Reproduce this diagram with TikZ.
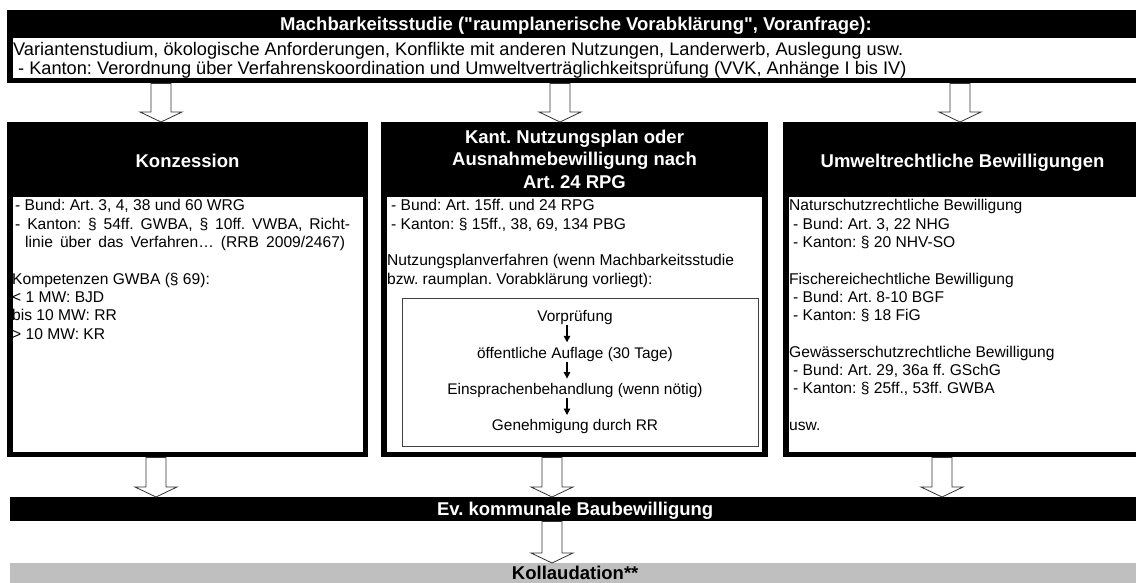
\documentclass[tikz,border=0pt]{standalone}
\usepackage{fontspec}
\setmainfont{Liberation Sans}[Ligatures=TeXOff]
\usetikzlibrary{arrows.meta}

% hollow block arrow: #1 = x position, #2 = source node, #3 = target node
\newcommand{\hollowarrow}[3]{%
  \path (#1,0 |- #2.south) coordinate (ha-top)
        (#1,0 |- #3.north) coordinate (ha-tip);
  \draw[hollow] ([xshift=-10pt]ha-top)
    -- ([xshift=-10pt,yshift=10pt]ha-tip)
    -- ([xshift=-21pt,yshift=10pt]ha-tip)
    -- (ha-tip)
    -- ([xshift=21pt,yshift=10pt]ha-tip)
    -- ([xshift=10pt,yshift=10pt]ha-tip)
    -- ([xshift=10pt]ha-top) -- cycle;
}

\begin{document}
\frenchspacing
\begin{tikzpicture}[x=1pt,y=-1pt,
  frame/.style={fill=black, draw=none, inner sep=0pt, anchor=north west},
  panel/.style={fill=white, draw=none, inner sep=0pt, anchor=north west},
  head/.style={text=white, font=\fontsize{18.5}{22.5}\selectfont\bfseries,
               align=center, inner sep=0pt},
  lead/.style={font=\fontsize{18.2}{19}\selectfont, align=left, inner sep=0pt,
               anchor=north west},
  body/.style={font=\fontsize{15.6}{18.3}\selectfont, align=left, inner sep=0pt,
               anchor=north west},
  hollow/.style={draw=black!80, fill=white, line width=0.8pt, line join=miter},
  stepnode/.style={font=\fontsize{15.4}{18.3}\selectfont, inner sep=0pt,
                   text height=11pt, text depth=3.5pt, anchor=base},
  steparrow/.style={-{Triangle[width=6.5pt,length=6.5pt]}, line width=1.3pt,
                    shorten >=4.5pt},
  bar/.style={inner sep=0pt, anchor=north west, minimum width=1130pt,
              font=\fontsize{18.5}{22.5}\selectfont\bfseries,
              text height=13.3pt, text depth=0pt},
]
\useasboundingbox (0,0) rectangle (1136,583);
\clip (0,0) rectangle (1136,583);
\fill[white] (0,0) rectangle (1136,583);

% feasibility study
\node[frame, minimum width=1138pt, minimum height=73pt] (study) at (7,10) {};
\node[panel, minimum width=1130pt, minimum height=40pt] (studybody) at (13,38) {};
\node[head, text height=13.3pt, text depth=0pt] (studytitle) at (576,24)
  {Machbarkeitsstudie ("raumplanerische Vorabklärung", Voranfrage):};
\node[lead] (studytext) at (13,41.7)
  {\strut Variantenstudium, ökologische Anforderungen, Konflikte mit anderen Nutzungen, Landerwerb, Auslegung usw.\\
   \hspace*{5pt}- Kanton: Verordnung über Verfahrenskoordination und Umweltverträglichkeitsprüfung (VVK, Anhänge I bis IV)};

% concession
\node[frame, minimum width=361pt, minimum height=335pt] (konz) at (7,122) {};
\node[panel, minimum width=350pt, minimum height=255pt] (konzbody) at (12.5,197) {};
\node[head, text height=13.3pt, text depth=0pt] (konzhead) at (187.5,160.4) {Konzession};
\node[body] (konztext) at (12,197.9)
  {\strut\hspace*{3pt}- Bund: Art. 3, 4, 38 und 60 WRG\\
   \hspace*{3pt}\makebox[335pt][s]{- Kanton: § 54ff. GWBA, § 10ff. VWBA, Richt-}\\
   \hspace*{13pt}\makebox[320pt][s]{linie über das Verfahren… (RRB 2009/2467)}\\[18.3pt]
   Kompetenzen GWBA (§ 69):\\
   < 1 MW: BJD\\
   bis 10 MW: RR\\
   > 10 MW: KR};

% land use plan
\node[frame, minimum width=387pt, minimum height=335pt] (plan) at (381,122) {};
\node[panel, minimum width=375pt, minimum height=255pt] (planbody) at (387,197) {};
\node[head, anchor=north] (planhead) at (574.5,127.55)
  {\strut Kant. Nutzungsplan oder\\ Ausnahmebewilligung nach\\ Art. 24 RPG};
\node[body] (plantext) at (387,197.9)
  {\strut\hspace*{4pt}- Bund: Art. 15ff. und 24 RPG\\
   \hspace*{4pt}- Kanton: § 15ff., 38, 69, 134 PBG\\[18.3pt]
   Nutzungsplanverfahren (wenn Machbarkeitsstudie\\
   bzw. raumplan. Vorabklärung vorliegt):};
\node[draw=black!75, line width=1pt, inner sep=0pt, anchor=north west,
      minimum width=356pt, minimum height=148pt] (steps) at (402,298) {};
\node[stepnode] (s1) at (575,321.7) {Vorprüfung};
\node[stepnode] (s2) at (575,358) {öffentliche Auflage (30 Tage)};
\node[stepnode] (s3) at (575,394.3) {Einsprachenbehandlung (wenn nötig)};
\node[stepnode] (s4) at (575,430.7) {Genehmigung durch RR};
\draw[steparrow] (567,0 |- s1.south) -- (567,0 |- s2.north);
\draw[steparrow] (567,0 |- s2.south) -- (567,0 |- s3.north);
\draw[steparrow] (567,0 |- s3.south) -- (567,0 |- s4.north);

% environmental permits
\node[frame, minimum width=360pt, minimum height=335pt] (env) at (783,122) {};
\node[panel, minimum width=350pt, minimum height=255pt] (envbody) at (789,197) {};
\node[head, text height=13.3pt, text depth=0pt] (envhead) at (962.5,160.4)
  {Umweltrechtliche Bewilligungen};
\node[body] (envtext) at (789,197.9)
  {\strut Naturschutzrechtliche Bewilligung\\
   \hspace*{4pt}- Bund: Art. 3, 22 NHG\\
   \hspace*{4pt}- Kanton: § 20 NHV-SO\\[18.3pt]
   Fischereichechtliche Bewilligung\\
   \hspace*{4pt}- Bund: Art. 8-10 BGF\\
   \hspace*{4pt}- Kanton: § 18 FiG\\[18.3pt]
   Gewässerschutzrechtliche Bewilligung\\
   \hspace*{4pt}- Bund: Art. 29, 36a ff. GSchG\\
   \hspace*{4pt}- Kanton: § 25ff., 53ff. GWBA\\[18.3pt]
   usw.};

% building permit and final inspection
\node[bar, fill=black, text=white, minimum height=24pt] (permit) at (10,497)
  {Ev. kommunale Baubewilligung};
\node[bar, fill=black!25, text=black, minimum height=20pt] (inspect) at (10,563)
  {Kollaudation**};

% flow between the stages
\hollowarrow{161}{study}{konz}
\hollowarrow{560}{study}{plan}
\hollowarrow{960}{study}{env}
\hollowarrow{156}{konz}{permit}
\hollowarrow{552}{plan}{permit}
\hollowarrow{942}{env}{permit}
\hollowarrow{552}{permit}{inspect}
\end{tikzpicture}
\end{document}
